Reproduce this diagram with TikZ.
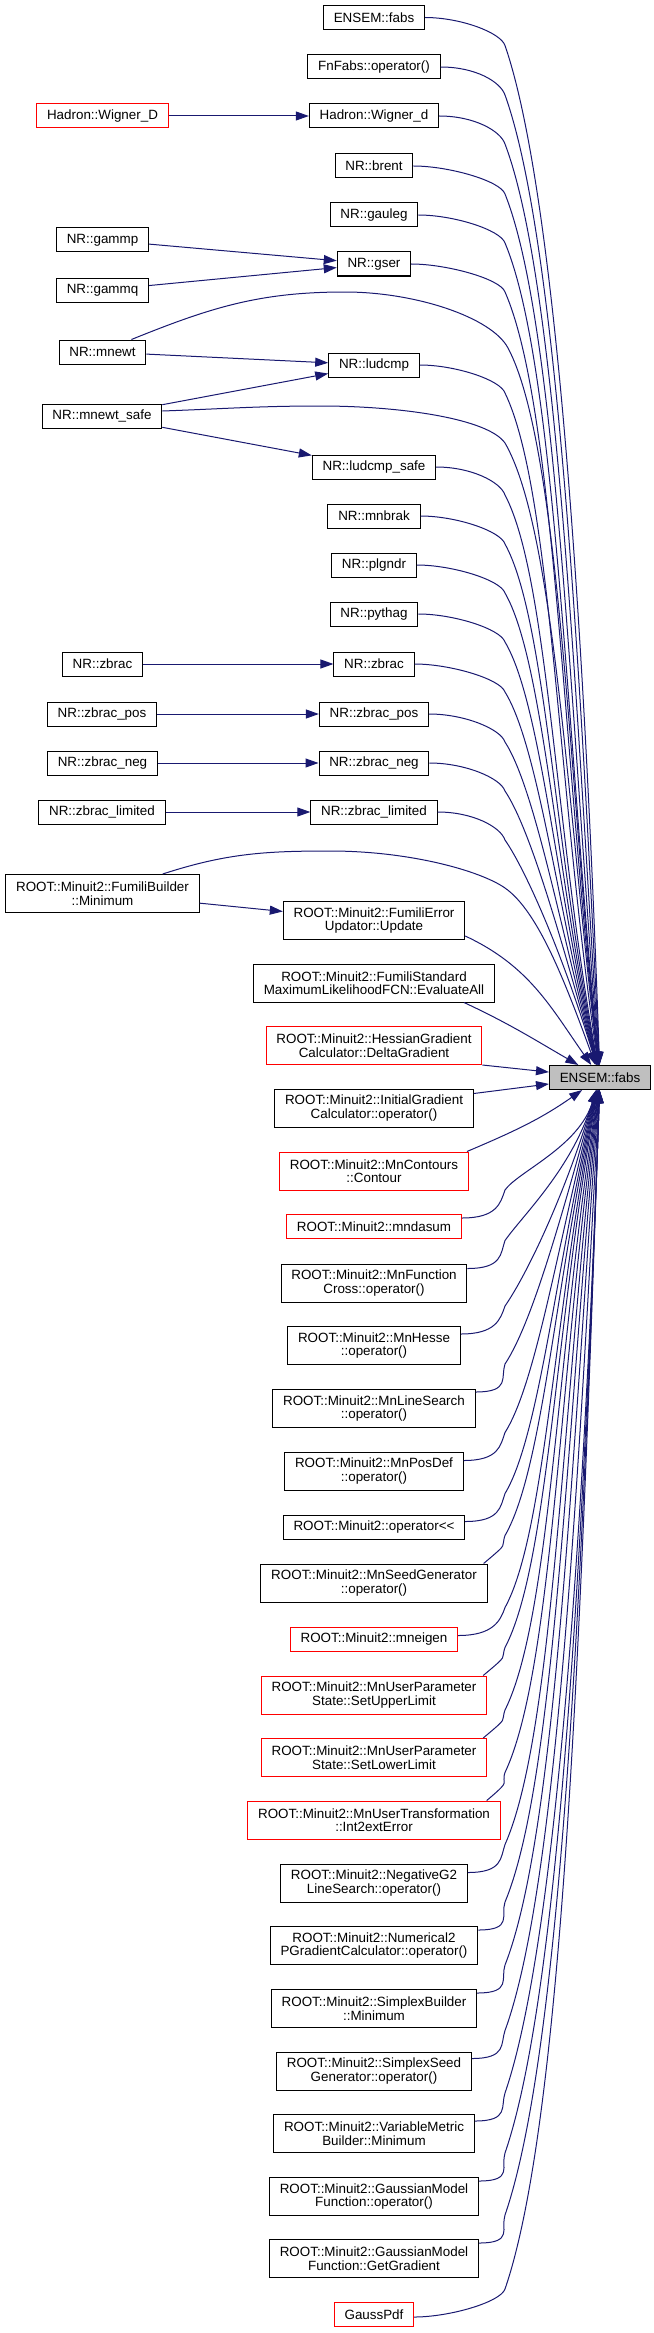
\documentclass[tikz,border=0pt]{standalone}
\usepackage{fontspec}
\setmainfont{Liberation Sans}
\usepackage{tikz}
\usetikzlibrary{arrows.meta,calc}
\definecolor{EdgeBlue}{HTML}{191970}
\definecolor{HitGray}{HTML}{BFBFBF}
\definecolor{LinkRed}{HTML}{FF0000}
\newcommand{\graphfont}{\fontsize{13.4}{13.5}\selectfont}
% #1 caller, #2 its y, #3 #4 shift of the start from its north east corner, #5 start angle
\newcommand{\callfrombelow}[5]{%
  \pgfmathsetmacro\cD{#2-1077.5}%
  \pgfmathsetmacro\cF{min(max((\cD-250)/800,0),1)}%
  \pgfmathsetmacro\cK{55+16*\cF}%
  \pgfmathsetmacro\cE{-92-15*(1-\cF)}%
  \pgfmathsetmacro\cO{0.15*\cD}%
  \pgfmathsetmacro\cI{0.4*\cD}%
  \path ([xshift=#3pt,yshift=#4pt]#1.north east) coordinate (st);
  \path (st -| kneeline) coordinate (kb);
  \draw[callarrow] (st) .. controls +(#5:35pt) and +(-109:14pt) .. ([yshift=28pt]kb)
    .. controls +(\cK:\cO pt) and +(\cE:\cI pt) .. (fabs.\cE);
}

\begin{document}
\begin{tikzpicture}[x=1pt,y=1pt,
    fnbox/.style={draw=black, fill=white, line width=1pt, inner xsep=10.3pt,
      inner ysep=4pt, minimum height=24pt, align=center, font=\graphfont},
    fntwo/.style={fnbox, minimum height=38pt},
    nodoc/.style={draw=LinkRed},
    callarrow/.style={draw=EdgeBlue, line width=1pt, -{Triangle[length=13pt,width=9pt]}}]
  \useasboundingbox (0,0) rectangle (653,-2333);
  \coordinate (kneeline) at (505,0);

  \node[fnbox, fill=HitGray] (fabs) at (600,-1077.5) {ENSEM::fabs};

  \node[fnbox] (efabs) at (374,-17.5) {ENSEM::fabs};
  \node[fnbox] (fnfabs) at (374,-67) {FnFabs::operator()};
  \node[fnbox] (wignerd) at (374,-116) {Hadron::Wigner\_d};
  \node[fnbox] (brent) at (374,-166) {NR::brent};
  \node[fnbox] (gauleg) at (374,-215) {NR::gauleg};
  \node[fnbox] (gser) at (374,-264) {NR::gser};
  \node[fnbox] (ludcmp) at (374,-365) {NR::ludcmp};
  \node[fnbox] (ludcmpsafe) at (374,-467) {NR::ludcmp\_safe};
  \node[fnbox] (mnbrak) at (374,-516) {NR::mnbrak};
  \node[fnbox] (plgndr) at (374,-565) {NR::plgndr};
  \node[fnbox] (pythag) at (374,-614) {NR::pythag};
  \node[fnbox] (zbrac) at (374,-664) {NR::zbrac};
  \node[fnbox] (zbracpos) at (374,-714) {NR::zbrac\_pos};
  \node[fnbox] (zbracneg) at (374,-763) {NR::zbrac\_neg};
  \node[fnbox] (zbraclim) at (374,-812) {NR::zbrac\_limited};
  \node[fntwo] (fumerr) at (374,-920.5) {ROOT::Minuit2::FumiliError\\Updator::Update};
  \node[fntwo] (fumstd) at (374,-983) {ROOT::Minuit2::FumiliStandard\\MaximumLikelihoodFCN::EvaluateAll};
  \node[fntwo, nodoc] (hessian) at (374,-1045.5) {ROOT::Minuit2::HessianGradient\\Calculator::DeltaGradient};
  \node[fntwo] (initgrad) at (374,-1108) {ROOT::Minuit2::InitialGradient\\Calculator::operator()};
  \node[fntwo, nodoc] (contours) at (374,-1171) {ROOT::Minuit2::MnContours\\::Contour};
  \node[fnbox, nodoc] (mndasum) at (374,-1226.5) {ROOT::Minuit2::mndasum};
  \node[fntwo] (fcross) at (374,-1283) {ROOT::Minuit2::MnFunction\\Cross::operator()};
  \node[fntwo] (hesse) at (374,-1345.5) {ROOT::Minuit2::MnHesse\\::operator()};
  \node[fntwo] (linesearch) at (374,-1408.5) {ROOT::Minuit2::MnLineSearch\\::operator()};
  \node[fntwo] (posdef) at (374,-1471) {ROOT::Minuit2::MnPosDef\\::operator()};
  \node[fnbox] (oplt) at (374,-1527) {ROOT::Minuit2::operator<{}<};
  \node[fntwo] (seedgen) at (374,-1583) {ROOT::Minuit2::MnSeedGenerator\\::operator()};
  \node[fnbox, nodoc] (mneigen) at (374,-1639) {ROOT::Minuit2::mneigen};
  \node[fntwo, nodoc] (upper) at (374,-1695) {ROOT::Minuit2::MnUserParameter\\State::SetUpperLimit};
  \node[fntwo, nodoc] (lower) at (374,-1757.5) {ROOT::Minuit2::MnUserParameter\\State::SetLowerLimit};
  \node[fntwo, nodoc] (int2ext) at (374,-1820) {ROOT::Minuit2::MnUserTransformation\\::Int2extError};
  \node[fntwo] (negg2) at (374,-1883) {ROOT::Minuit2::NegativeG2\\LineSearch::operator()};
  \node[fntwo] (numtwo) at (374,-1945.5) {ROOT::Minuit2::Numerical2\\PGradientCalculator::operator()};
  \node[fntwo] (simplexb) at (374,-2008.5) {ROOT::Minuit2::SimplexBuilder\\::Minimum};
  \node[fntwo] (simplexs) at (374,-2071) {ROOT::Minuit2::SimplexSeed\\Generator::operator()};
  \node[fntwo] (varmetric) at (374,-2133.5) {ROOT::Minuit2::VariableMetric\\Builder::Minimum};
  \node[fntwo] (gaussop) at (374,-2196.5) {ROOT::Minuit2::GaussianModel\\Function::operator()};
  \node[fntwo] (gaussgrad) at (374,-2258.5) {ROOT::Minuit2::GaussianModel\\Function::GetGradient};
  \node[fnbox, nodoc] (gausspdf) at (374,-2314.5) {GaussPdf};

  \node[fnbox, nodoc] (callwigner) at (102.5,-116) {Hadron::Wigner\_D};
  \node[fnbox] (gammp) at (102.5,-240) {NR::gammp};
  \node[fnbox] (gammq) at (102.5,-290) {NR::gammq};
  \node[fnbox] (mnewt) at (102.5,-352) {NR::mnewt};
  \node[fnbox] (mnewtsafe) at (102,-416) {NR::mnewt\_safe};
  \node[fnbox] (callzbrac) at (102.5,-664) {NR::zbrac};
  \node[fnbox] (callzbracpos) at (102,-714) {NR::zbrac\_pos};
  \node[fnbox] (callzbracneg) at (102.5,-763) {NR::zbrac\_neg};
  \node[fnbox] (callzbraclim) at (102,-812) {NR::zbrac\_limited};
  \node[fntwo] (fumbuilder) at (102.5,-893.5) {ROOT::Minuit2::FumiliBuilder\\::Minimum};

  \draw[callarrow] (callwigner) -- (wignerd);
  \draw[callarrow] (gammp) -- (gser);
  \draw[callarrow] (gammq) -- (gser);
  \draw[callarrow] (mnewt) -- (ludcmp);
  \draw[callarrow] (mnewtsafe) -- (ludcmp);
  \draw[callarrow] (mnewtsafe) -- (ludcmpsafe);
  \draw[callarrow] (callzbrac) -- (zbrac);
  \draw[callarrow] (callzbracpos) -- (zbracpos);
  \draw[callarrow] (callzbracneg) -- (zbracneg);
  \draw[callarrow] (callzbraclim) -- (zbraclim);
  \draw[callarrow] (fumbuilder) -- (fumerr);

  % callers above the target
  \foreach \src/\ys in {efabs/17.5, fnfabs/67, wignerd/116, brent/166, gauleg/215,
      gser/264, ludcmp/365, ludcmpsafe/467, mnbrak/516, plgndr/565, pythag/614,
      zbrac/664, zbracpos/714, zbracneg/763, zbraclim/812}{
    \pgfmathsetmacro\cD{1077.5-\ys}
    \pgfmathsetmacro\cF{min(max((\cD-250)/800,0),1)}
    \pgfmathsetmacro\cK{-55-16*\cF}
    \pgfmathsetmacro\cE{92+15*(1-\cF)}
    \pgfmathsetmacro\cO{0.15*\cD}
    \pgfmathsetmacro\cI{0.4*\cD}
    \path (\src.east) coordinate (st);
    \path (st -| kneeline) coordinate (kb);
    \draw[callarrow] (st)
      to[out=0,in=109,out distance=35pt,in distance=14pt] ([yshift=-28pt]kb)
      to[out=\cK,in=\cE,out distance=\cO pt,in distance=\cI pt] (fabs);
  }

  % callers below the target
  \callfrombelow{mndasum}{1226}{0}{-4}{0}
  \callfrombelow{fcross}{1283}{0}{-5}{0}
  \callfrombelow{hesse}{1345}{0}{-8}{0}
  \callfrombelow{linesearch}{1408}{0}{-3}{0}
  \callfrombelow{posdef}{1471}{0}{-9}{0}
  \callfrombelow{oplt}{1527}{0}{-7}{0}
  \callfrombelow{seedgen}{1583}{-4}{0}{40}
  \callfrombelow{mneigen}{1639}{0}{-9}{0}
  \callfrombelow{upper}{1695}{-4}{0}{40}
  \callfrombelow{lower}{1757}{-4}{0}{40}
  \callfrombelow{int2ext}{1820}{-14}{0}{40}
  \callfrombelow{negg2}{1883}{0}{-9}{0}
  \callfrombelow{numtwo}{1945}{0}{-4}{0}
  \callfrombelow{simplexb}{2008}{0}{-4}{0}
  \callfrombelow{simplexs}{2071}{0}{-7}{0}
  \callfrombelow{varmetric}{2133}{0}{-7}{0}
  \callfrombelow{gaussop}{2196}{0}{-4}{0}
  \callfrombelow{gaussgrad}{2258}{0}{-4}{0}
  \callfrombelow{gausspdf}{2315}{0}{-15}{0}

  \draw[callarrow] ([xshift=-15pt]mnewt.north east) to[out=22,in=180] (345,-292)
    to[out=0,in=118,out distance=70pt,in distance=35pt] (508,-348)
    to[out=-62,in=96,out distance=110pt,in distance=280pt] (fabs);
  \draw[callarrow] ([yshift=5pt]mnewtsafe.east) to[out=2,in=180] (320,-406)
    to[out=0,in=125,out distance=80pt,in distance=30pt] (505,-443)
    to[out=-60,in=97,out distance=100pt,in distance=250pt] (fabs);
  \draw[callarrow] ([xshift=-37pt]fumbuilder.north east) to[out=18,in=180] (330,-851)
    to[out=0,in=145,out distance=80pt,in distance=30pt] (505,-888)
    to[out=-35,in=110,out distance=40pt,in distance=90pt] (fabs);
  \draw[callarrow] ([yshift=4pt]fumerr.south east) to[out=-25,in=125] (fabs);
  \draw[callarrow] ([xshift=-31pt]fumstd.south east) to[out=-25,in=150] (fabs);
  \draw[callarrow] (hessian.south east) -- (fabs);
  \draw[callarrow] ([yshift=-5pt]initgrad.north east) -- (fabs);
  \draw[callarrow] ([xshift=-2pt]contours.north east) to[out=23,in=-145] (fabs);
\end{tikzpicture}
\end{document}
